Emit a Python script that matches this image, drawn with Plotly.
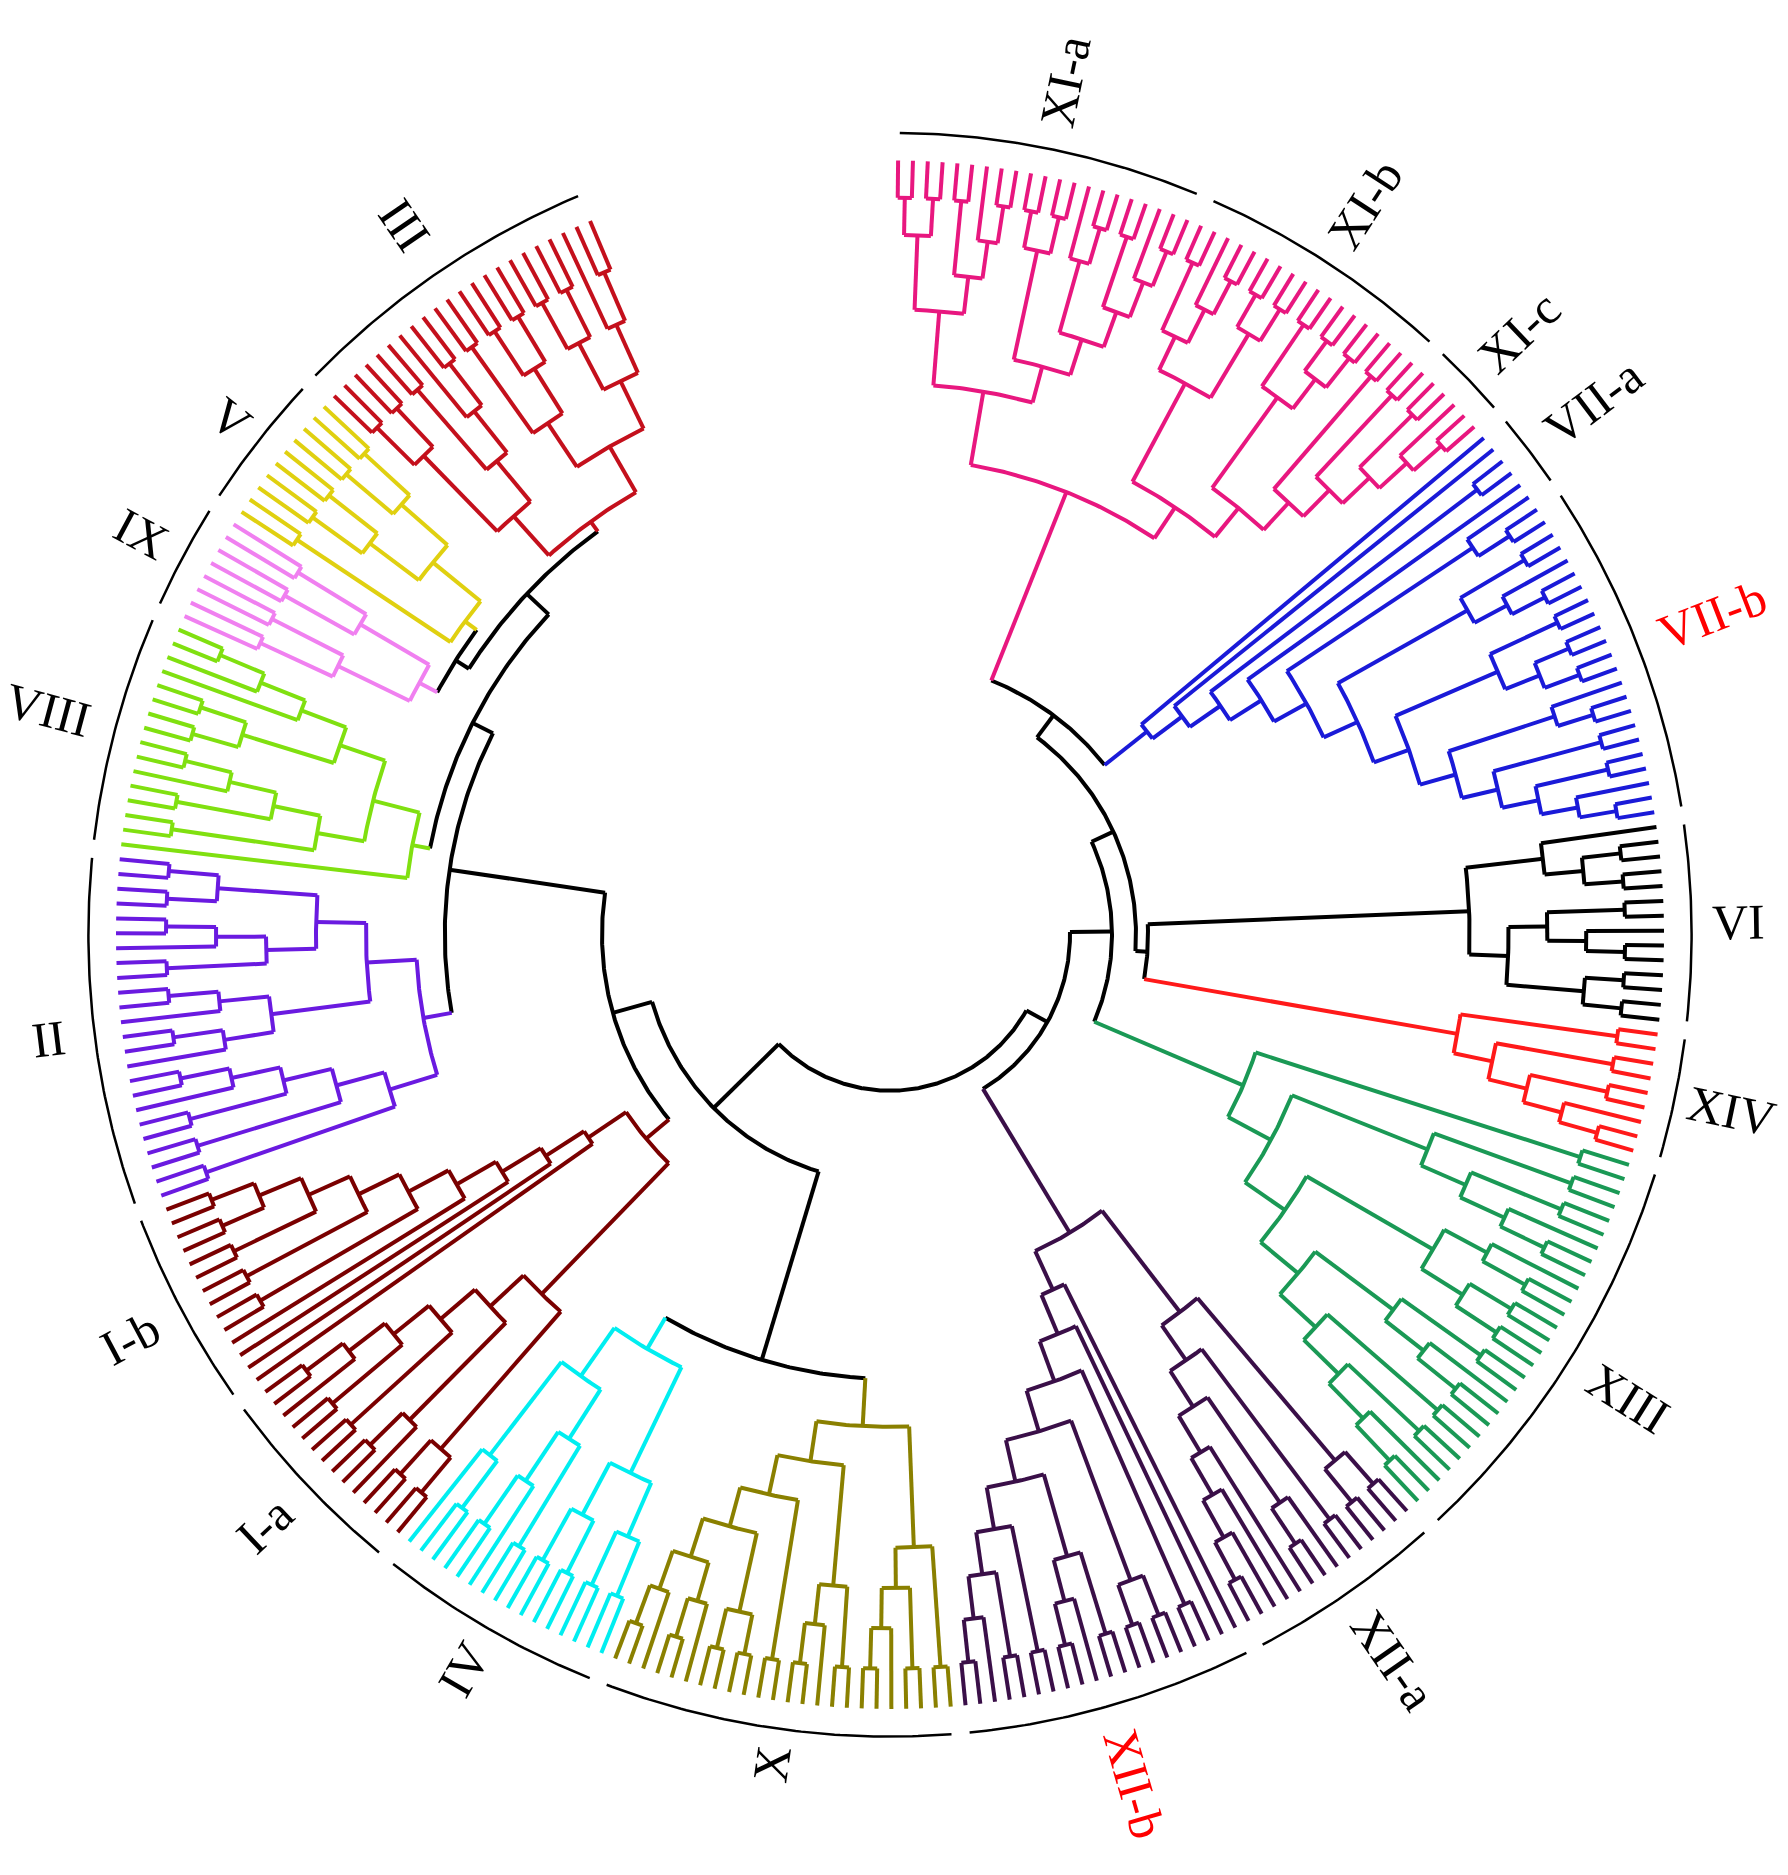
import re
import numpy as np
import plotly.graph_objects as go

# ---------------- data ----------------
group_labels = ["XI-a", "XI-b", "XI-c", "VII-a", "VII-b", "VI", "XIV", "XIII", "XII-a", "XII-b",
                "X", "IV", "I-a", "I-b", "II", "VIII", "IX", "V", "III"]
group_counts = [21, 18, 6, 6, 23, 14, 9, 28, 14, 20, 24, 16, 14, 14, 24, 16, 8, 10, 22]
group_label_colors = ["black"] * 19
group_label_colors[4] = "red"
group_label_colors[9] = "red"

clade_topology = {
    "XI": "((((2,2),(2,3)),((2,2),(3,(2,3)))),(((2,3),(2,2)),((2,(2,2)),(2,(2,(2,3))))))",
    "VII": "(1,(1,(2,(1,(3,((2,3),((2,(2,2)),(3,(2,(2,3))))))))))",
    "VI": "((1,(2,2)),((2,3),(2,(1,1))))",
    "XIV": "(2,(2,(2,3)))",
    "XIII": "(2,((2,(2,3)),((3,(2,2)),((2,3),(2,(2,3))))))",
    "XII": "(((2,2),(2,(3,5))),(1,(1,(2,((2,2),((2,3),(2,(2,3))))))))",
    "X": "((2,(2,3)),((2,3),(2,((2,2),(3,3)))))",
    "IV": "(((2,2),(2,2)),((2,3),(2,1)))",
    "I": "(((2,2),(3,(2,(2,3)))),(1,(1,(1,(1,(2,(2,(2,(2,2)))))))))",
    "II": "((2,(2,(2,3))),((3,3),((2,3),(2,2))))",
    "VIII": "(1,((2,(2,3)),((2,2),4)))",
    "IX": "((2,2),(2,2))",
    "V": "(2,((2,2),(2,2)))",
    "III": "(((2,2),(2,3)),((2,(2,2)),((2,2),3)))",
}
clade_root_r = {"XI": 397, "VII": 273, "VI": 483, "XIV": 480, "XIII": 320, "XII": 290,
                "X": 410, "IV": 400, "I": 265, "II": 395, "VIII": 405, "IX": 445,
                "V": 440, "III": 425}
clade_color = {"XI": "#e8177f", "VII": "#1a1ad8", "VI": "#000000", "XIV": "#ff1a1a",
               "XIII": "#1a9955", "XII": "#3a0f48", "X": "#8a8000", "IV": "#00eef0",
               "I": "#7a0000", "II": "#6a1ae0", "VIII": "#80e010", "IX": "#f080f0",
               "V": "#e0d010", "III": "#c4101c"}

LEAF_R = 645
ARC_R = 668
START_ANGLE = 89.4
STEP = 1.1

# ---------------- tree building ----------------
def ladder(n):
    return "L" if n == 1 else ["L", ladder(n - 1)]

def parse(s):
    toks = re.findall(r"\(|\)|,|\d+", s)
    pos = [0]
    def rec():
        t = toks[pos[0]]
        if t == "(":
            pos[0] += 1
            kids = [rec()]
            while toks[pos[0]] == ",":
                pos[0] += 1
                kids.append(rec())
            pos[0] += 1
            return kids
        pos[0] += 1
        return ladder(int(t))
    return rec()

def height(t):
    return 0 if t == "L" else 1 + max(height(c) for c in t)

def build(t, r0, H, color):
    if t == "L":
        return {"r": LEAF_R, "color": color}
    h = height(t)
    r = r0 + (LEAF_R - r0) * (1 - h / H)
    return {"r": r, "color": color, "children": [build(c, r0, H, color) for c in t]}

def clade(name):
    t = parse(clade_topology[name])
    return build(t, clade_root_r[name], height(t), clade_color[name])

def bb(r, *kids):
    return {"r": r, "color": "black", "children": list(kids)}

R4 = bb(215, clade("VI"), clade("XIV"))
R5 = bb(228, clade("XI"), clade("VII"))
R3 = bb(205, R5, R4)
R2 = bb(185, R3, clade("XIII"))
RIGHT = bb(150, R2, clade("XII"))
L5 = bb(415, bb(428, clade("IX"), clade("V")), clade("III"))
L4 = bb(390, clade("VIII"), L5)
L3 = bb(371, clade("II"), L4)
L2 = bb(240, clade("I"), L3)
L1 = bb(370, clade("X"), clade("IV"))
LEFT = bb(206, L1, L2)
ROOT = bb(130, RIGHT, LEFT)

counter = [0]
def assign(n):
    if "children" not in n:
        n["theta"] = START_ANGLE - STEP * counter[0]
        counter[0] += 1
    else:
        for c in n["children"]:
            assign(c)
        ths = [c["theta"] for c in n["children"]]
        n["theta"] = (max(ths) + min(ths)) / 2
assign(ROOT)

segs = {}
def add(color, xs, ys):
    d = segs.setdefault(color, ([], []))
    d[0].extend(list(xs) + [None])
    d[1].extend(list(ys) + [None])

def arc(r, a0, a1):
    n = max(2, int(abs(a1 - a0) / 0.4) + 2)
    a = np.radians(np.linspace(a0, a1, n))
    return r * np.cos(a), r * np.sin(a)

def draw(n):
    if "children" not in n:
        return
    ths = [c["theta"] for c in n["children"]]
    xs, ys = arc(n["r"], min(ths), max(ths))
    add(n["color"], xs, ys)
    for c in n["children"]:
        a = np.radians(c["theta"])
        add(c["color"], [n["r"] * np.cos(a), c["r"] * np.cos(a)], [n["r"] * np.sin(a), c["r"] * np.sin(a)])
        draw(c)
draw(ROOT)

fig = go.Figure()
for color, (xs, ys) in segs.items():
    fig.add_trace(go.Scatter(x=xs, y=ys, mode="lines", line=dict(color=color, width=4),
                             hoverinfo="skip", showlegend=False))

idx = 0
GAP = 1.3
axs, ays = [], []
for lab, cnt, lc in zip(group_labels, group_counts, group_label_colors):
    a_first = START_ANGLE - STEP * idx + STEP / 2 - GAP / 2
    a_last = START_ANGLE - STEP * (idx + cnt - 1) - STEP / 2 + GAP / 2
    xs, ys = arc(ARC_R, a_first, a_last)
    axs.extend(list(xs) + [None]); ays.extend(list(ys) + [None])
    mid = (a_first + a_last) / 2
    m = ((mid + 180) % 360) - 180
    if -90 <= m <= 90:
        ang = -m
    else:
        ang = ((180 - m + 180) % 360) - 180
    r_lab = ARC_R + 20 + len(lab) * 9.5
    fig.add_annotation(x=r_lab * np.cos(np.radians(mid)), y=r_lab * np.sin(np.radians(mid)),
                       text=lab, showarrow=False, textangle=ang, xref="x", yref="y",
                       font=dict(family="Liberation Serif", size=50, color=lc))
    idx += cnt
fig.add_trace(go.Scatter(x=axs, y=ays, mode="lines", line=dict(color="black", width=2.5),
                         hoverinfo="skip", showlegend=False))

fig.update_layout(width=1788, height=1875, margin=dict(l=0, r=0, t=0, b=0),
                  plot_bgcolor="white", paper_bgcolor="white",
                  xaxis=dict(range=[-735, 755], visible=False, fixedrange=True),
                  yaxis=dict(range=[-790, 772], visible=False, fixedrange=True))
fig.write_html("out.html")
